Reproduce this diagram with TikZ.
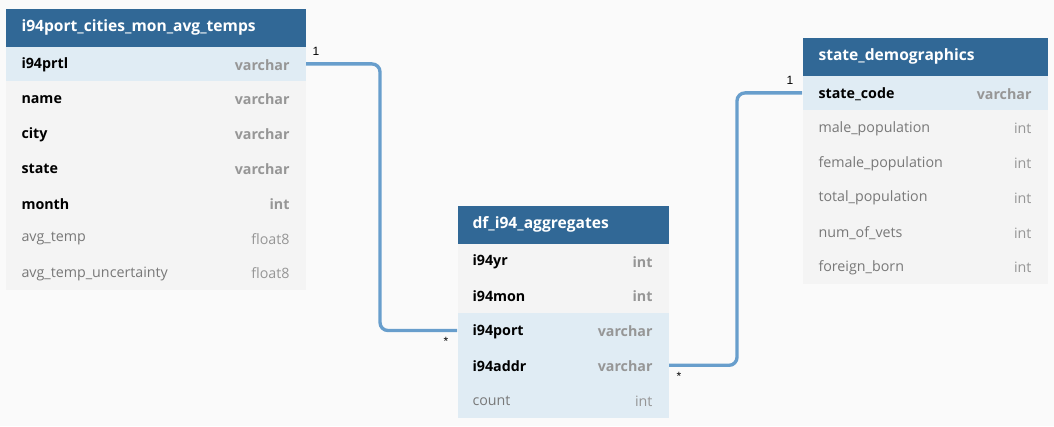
\documentclass[tikz,border=0pt]{standalone}
\usepackage{fontspec}
\setmainfont{Open Sans}
\newfontfamily\lblfont{Liberation Sans}

\definecolor{hdrblue}{RGB}{49,104,150}
\definecolor{rowblue}{RGB}{224,236,244}
\definecolor{rowgray}{RGB}{244,244,244}
\definecolor{pagebg}{RGB}{250,250,250}
\definecolor{linkblue}{RGB}{104,158,204}
\definecolor{typegray}{RGB}{150,150,150}
\definecolor{namegray}{RGB}{120,120,120}

\tikzset{every picture/.style={line width=0.75pt}}

\begin{document}
\begin{tikzpicture}[x=0.75pt,y=0.75pt,yscale=-1,xscale=1,
  hdr/.style={fill=hdrblue, minimum height=28.5pt, inner sep=0pt, anchor=north west},
  row/.style={fill=rowgray, minimum height=26.1pt, inner sep=0pt, anchor=north west},
  keyrow/.style={row, fill=rowblue},
  hdrtext/.style={anchor=west, inner sep=0pt, yshift=-0.6pt, text=white, font=\fontsize{11.7}{13}\selectfont\bfseries},
  kname/.style={anchor=west, inner sep=0pt, yshift=-1pt, text=black, font=\fontsize{10.7}{12}\selectfont\bfseries},
  ktype/.style={anchor=east, inner sep=0pt, yshift=-1pt, text=typegray, font=\fontsize{10.7}{12}\selectfont\bfseries},
  fname/.style={anchor=west, inner sep=0pt, yshift=-1pt, text=namegray, font=\fontsize{10.7}{12}\selectfont},
  ftype/.style={anchor=east, inner sep=0pt, yshift=-1pt, text=typegray, font=\fontsize{10.7}{12}\selectfont},
  link/.style={draw=linkblue, line width=2.5pt, rounded corners=6pt},
  card/.style={inner sep=0pt, font=\lblfont\fontsize{9}{10}\selectfont}]

%Background
\fill [pagebg] (0,0) rectangle (1054,426);
\useasboundingbox (0,0) rectangle (1054,426);

%Table: i94port_cities_mon_avg_temps
\node [hdr, minimum width=225pt] (cities) at (5,8) {};
\node [row, minimum width=225pt, minimum height=182.7pt] (citiesbody) at (5,46) {};
\node [keyrow, minimum width=225pt] (prtl) at (5,46) {};
\node [hdrtext] at (21,27) {i94port\_cities\_mon\_avg\_temps};
% Rows
\node [kname] at (21,63.4) {i94prtl};
\node [ktype] at (290,63.4) {varchar};
\node [kname] at (21,98.2) {name};
\node [ktype] at (290,98.2) {varchar};
\node [kname] at (21,133) {city};
\node [ktype] at (290,133) {varchar};
\node [kname] at (21,167.8) {state};
\node [ktype] at (290,167.8) {varchar};
\node [kname] at (21,202.6) {month};
\node [ktype] at (290,202.6) {int};
\node [fname] at (21,237.4) {avg\_temp};
\node [ftype] at (290,237.4) {float8};
\node [fname] at (21,272.2) {avg\_temp\_uncertainty};
\node [ftype] at (290,272.2) {float8};

%Table: df_i94_aggregates
\node [hdr, minimum width=158.25pt] (aggr) at (457,205) {};
\node [row, minimum width=158.25pt, minimum height=52.2pt] (aggrtop) at (457,243) {};
\node [keyrow, minimum width=158.25pt] (port) at (457,312.6) {};
\node [keyrow, minimum width=158.25pt] (addr) at (457,347.4) {};
\node [keyrow, minimum width=158.25pt] (count) at (457,382.2) {};
\node [hdrtext] at (472,224) {df\_i94\_aggregates};
% Rows
\node [kname] at (472,260.4) {i94yr};
\node [ktype] at (653,260.4) {int};
\node [kname] at (472,295.2) {i94mon};
\node [ktype] at (653,295.2) {int};
\node [kname] at (472,330) {i94port};
\node [ktype] at (653,330) {varchar};
\node [kname] at (472,364.8) {i94addr};
\node [ktype] at (653,364.8) {varchar};
\node [fname] at (472,399.6) {count};
\node [ftype] at (653,399.6) {int};

%Table: state_demographics
\node [hdr, minimum width=183.75pt] (demo) at (802,37) {};
\node [row, minimum width=183.75pt, minimum height=156.6pt] (demobody) at (802,75) {};
\node [keyrow, minimum width=183.75pt] (code) at (802,75) {};
\node [hdrtext] at (818,56) {state\_demographics};
% Rows
\node [kname] at (818,92.4) {state\_code};
\node [ktype] at (1032,92.4) {varchar};
\node [fname] at (818,127.2) {male\_population};
\node [ftype] at (1032,127.2) {int};
\node [fname] at (818,162) {female\_population};
\node [ftype] at (1032,162) {int};
\node [fname] at (818,196.8) {total\_population};
\node [ftype] at (1032,196.8) {int};
\node [fname] at (818,231.6) {num\_of\_vets};
\node [ftype] at (1032,231.6) {int};
\node [fname] at (818,266.4) {foreign\_born};
\node [ftype] at (1032,266.4) {int};

%Links
\draw [link] (prtl.east) -- ++(74,0) |- (port.west);
\draw [link] (addr.east) -- ++(68,0) |- (code.west);

% Cardinality labels
\node [card] (c1) at (316,51) {1};
\node [card] (c2) at (446,341) {*};
\node [card] (c3) at (679,376) {*};
\node [card] (c4) at (790,80) {1};

\end{tikzpicture}
\end{document}
